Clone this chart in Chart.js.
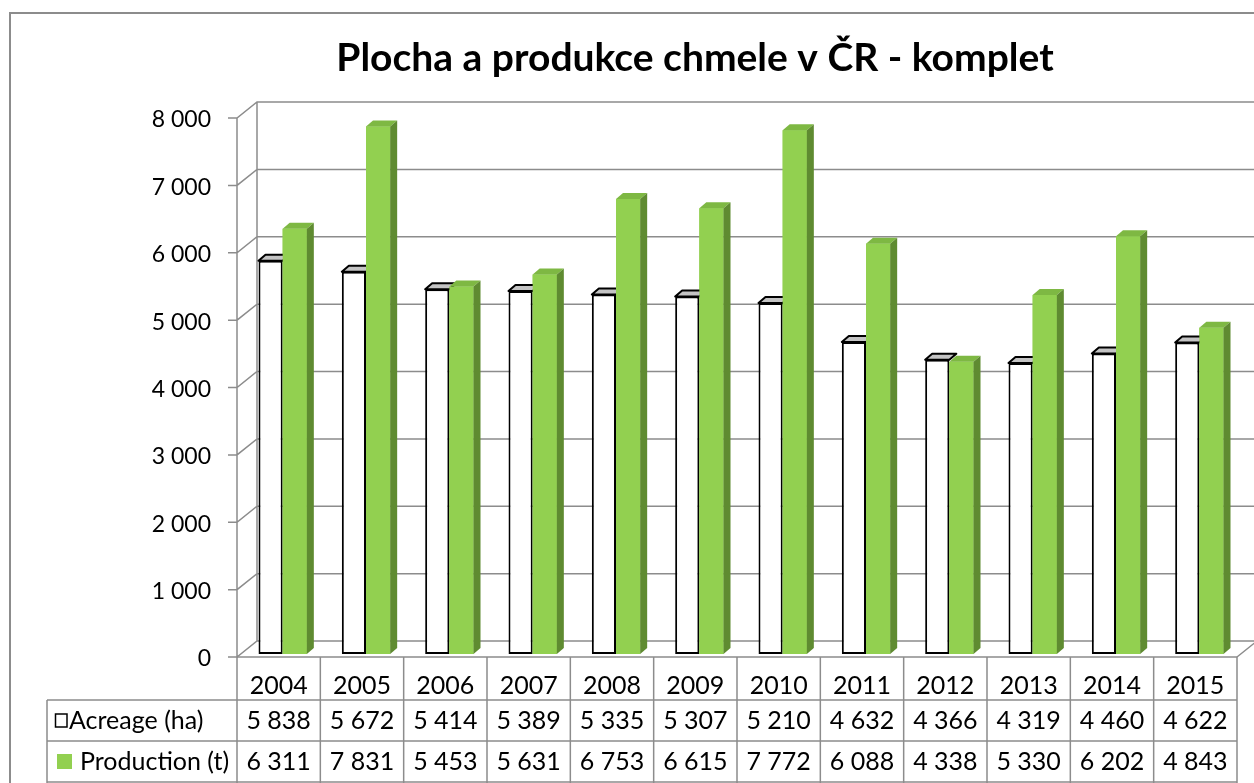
<!DOCTYPE html>
<html>
<head>
<meta charset="utf-8">
<script src="https://cdn.jsdelivr.net/npm/chart.js@4"></script>
<style>
  html, body { margin: 0; padding: 0; background: #fff; }
  #wrap { width: 1254px; height: 783px; }
</style>
</head>
<body>
<div id="wrap"><canvas id="hopChart" width="1254" height="783"></canvas></div>
<script>
const chartTitle = 'Plocha a produkce chmele v ČR - komplet';
const years = ['2004', '2005', '2006', '2007', '2008', '2009', '2010', '2011', '2012', '2013', '2014', '2015'];
const acreage = [5838, 5672, 5414, 5389, 5335, 5307, 5210, 4632, 4366, 4319, 4460, 4622];
const production = [6311, 7831, 5453, 5631, 6753, 6615, 7772, 6088, 4338, 5330, 6202, 4843];
const seriesNames = ['Acreage (ha)', 'Production (t)'];
const yTicks = [0, 1000, 2000, 3000, 4000, 5000, 6000, 7000, 8000];

const FONT = 'Lato, "Open Sans", sans-serif';
const GRID = '#8c8c8c';
const WALL_DX = 20, WALL_DY = 16;   // depth of the back wall
const BAR_DX = 7, BAR_DY = 6;       // depth of one bar
const SHIFT_X = 4, SHIFT_Y = -3;    // bars stand a little behind the front edge

// 5838 -> "5 838"
function fmt(n) {
    return String(n).replace(/\B(?=(\d{3})+(?!\d))/g, '\u00a0');
}

function face(ctx, pts, fill, stroke) {
    ctx.beginPath();
    ctx.moveTo(pts[0][0], pts[0][1]);
    for (let i = 1; i < pts.length; i++) ctx.lineTo(pts[i][0], pts[i][1]);
    ctx.closePath();
    ctx.fillStyle = fill;
    ctx.fill();
    if (stroke) {
        ctx.strokeStyle = stroke;
        ctx.lineWidth = 2;
        ctx.lineJoin = 'round';
        ctx.stroke();
    }
}

function barFaces(ctx, bar, ds) {
    const { x, y, base, width } = bar.getProps(['x', 'y', 'base', 'width'], true);
    const l = x - width / 2, r = x + width / 2;
    face(ctx, [[l, y], [l + BAR_DX, y - BAR_DY], [r + BAR_DX, y - BAR_DY], [r, y]], ds.topColor, ds.borderWidth ? ds.borderColor : null);
    if (ds.sideColor) {
        face(ctx, [[r, y], [r + BAR_DX, y - BAR_DY], [r + BAR_DX, base - BAR_DY], [r, base]], ds.sideColor, null);
    }
}

const excel3d = {
    id: 'excel3d',
    beforeDatasetsDraw(chart) {
        const { ctx, chartArea: a, scales: { y } } = chart;
        ctx.save();
        ctx.strokeStyle = GRID;
        ctx.lineWidth = 1.5;
        ctx.beginPath();
        // side wall
        ctx.moveTo(a.left, a.top);
        ctx.lineTo(a.left, a.bottom);
        ctx.moveTo(a.left + WALL_DX, a.top - WALL_DY);
        ctx.lineTo(a.left + WALL_DX, a.bottom - WALL_DY);
        // gridlines: tick, side wall, back wall
        yTicks.forEach(v => {
            const py = y.getPixelForValue(v);
            ctx.moveTo(a.left - 9, py);
            ctx.lineTo(a.left, py);
            ctx.lineTo(a.left + WALL_DX, py - WALL_DY);
            ctx.lineTo(a.right + WALL_DX, py - WALL_DY);
        });
        // floor, right edge
        ctx.moveTo(a.right, a.bottom);
        ctx.lineTo(a.right + WALL_DX, a.bottom - WALL_DY);
        ctx.stroke();
        ctx.restore();

        ctx.save();
        ctx.translate(SHIFT_X, SHIFT_Y);
    },
    afterDatasetsDraw(chart) {
        const ctx = chart.ctx;
        const white = chart.getDatasetMeta(0), green = chart.getDatasetMeta(1);
        const dsW = chart.data.datasets[0], dsG = chart.data.datasets[1];
        years.forEach((yr, i) => {
            barFaces(ctx, white.data[i], dsW);
            green.data[i].draw(ctx);
            barFaces(ctx, green.data[i], dsG);
        });
        ctx.restore();
    },
    afterDraw(chart) {
        const { ctx, chartArea: a, scales: { x, y } } = chart;
        ctx.save();

        // outer frame
        ctx.strokeStyle = GRID;
        ctx.lineWidth = 2;
        ctx.beginPath();
        ctx.moveTo(10, 783);
        ctx.lineTo(10, 13);
        ctx.lineTo(1254, 13);
        ctx.stroke();

        // title
        ctx.fillStyle = '#000';
        ctx.font = 'bold 39px ' + FONT;
        ctx.textAlign = 'center';
        ctx.textBaseline = 'alphabetic';
        ctx.fillText(chartTitle, 695, 71);

        // y labels
        ctx.font = '23px ' + FONT;
        ctx.textAlign = 'right';
        ctx.textBaseline = 'middle';
        yTicks.forEach(v => ctx.fillText(fmt(v), 211, y.getPixelForValue(v) + 2));

        // data table
        const colW = (a.right - a.left) / years.length;
        const rowTop = a.bottom, row1 = 700, row2 = 741, rowEnd = 782, legLeft = 47;
        ctx.strokeStyle = GRID;
        ctx.lineWidth = 1.5;
        ctx.beginPath();
        ctx.moveTo(a.left, rowTop); ctx.lineTo(a.right, rowTop);
        ctx.moveTo(legLeft, row1); ctx.lineTo(a.right, row1);
        ctx.moveTo(legLeft, row2); ctx.lineTo(a.right, row2);
        ctx.moveTo(legLeft, rowEnd); ctx.lineTo(a.right, rowEnd);
        ctx.moveTo(legLeft, row1); ctx.lineTo(legLeft, 783);
        for (let k = 0; k <= years.length; k++) {
            const px = a.left + k * colW;
            ctx.moveTo(px, rowTop);
            ctx.lineTo(px, 783);
        }
        ctx.stroke();

        ctx.fillStyle = '#000';
        ctx.font = '25px ' + FONT;
        ctx.textAlign = 'center';
        ctx.textBaseline = 'alphabetic';
        years.forEach((yr, i) => {
            const cx = x.getPixelForValue(i);
            ctx.fillText(yr, cx, 694);
            ctx.fillText(fmt(acreage[i]), cx, 729);
            ctx.fillText(fmt(production[i]), cx, 770);
        });

        // legend keys
        ctx.strokeStyle = '#000';
        ctx.lineWidth = 1.5;
        ctx.strokeRect(55.5, 714, 11.5, 13);
        ctx.fillStyle = '#92d050';
        ctx.fillRect(57, 754, 15, 15);
        ctx.fillStyle = '#000';
        ctx.textAlign = 'left';
        ctx.fillText(seriesNames[0], 69, 729);
        ctx.fillText(seriesNames[1], 80, 770);

        ctx.restore();
    }
};

const ctx = document.getElementById('hopChart').getContext('2d');
const hopChart = new Chart(ctx, {
    type: 'bar',
    data: {
        labels: years,
        datasets: [
            {
                label: seriesNames[0],
                data: acreage,
                backgroundColor: '#ffffff',
                borderColor: '#000000',
                borderWidth: 2,
                borderSkipped: false,
                topColor: '#c4c4c4'
            },
            {
                label: seriesNames[1],
                data: production,
                backgroundColor: '#92d050',
                borderWidth: 0,
                topColor: '#7eb843',
                sideColor: '#5f8b31'
            }
        ]
    },
    options: {
        responsive: false,
        animation: false,
        events: [],
        layout: { padding: { left: 237, right: 17, top: 118, bottom: 126 } },
        datasets: { bar: { categoryPercentage: 0.58, barPercentage: 1, clip: false } },
        plugins: {
            legend: { display: false },
            title: { display: false },
            tooltip: { enabled: false }
        },
        scales: {
            x: { display: false },
            y: { display: false, min: 0, max: 8000, ticks: { stepSize: 1000 } }
        }
    },
    plugins: [excel3d]
});
</script>
</body>
</html>
